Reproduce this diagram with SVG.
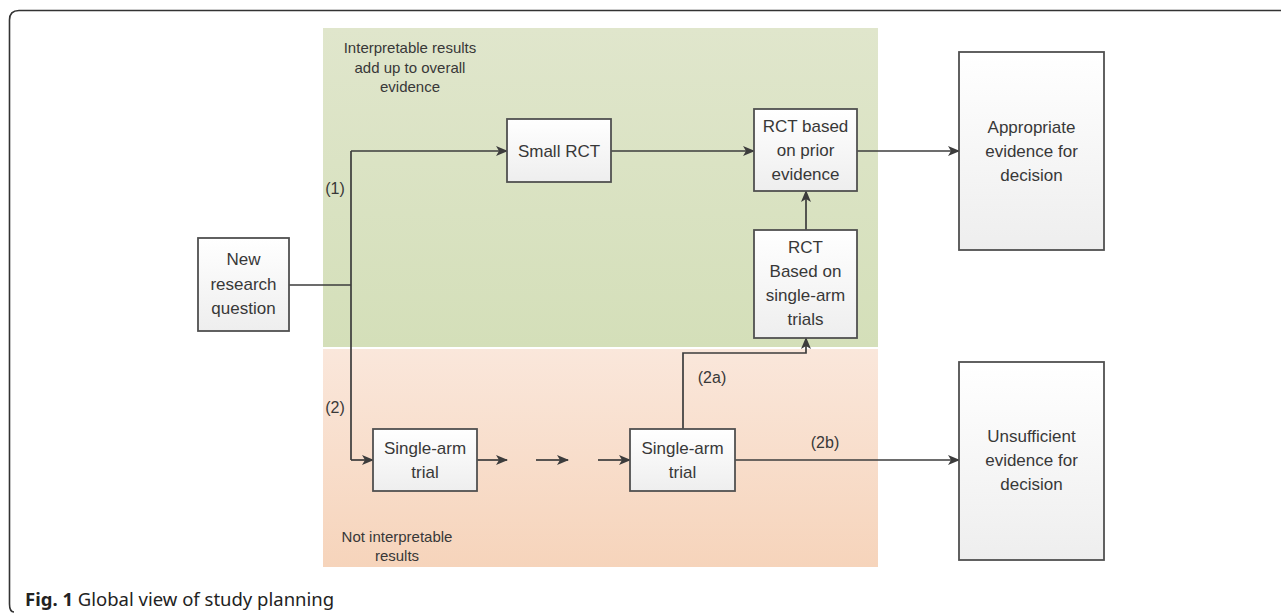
<svg xmlns="http://www.w3.org/2000/svg" width="1281" height="615" viewBox="0 0 1281 615">
<defs>
<linearGradient id="gGreen" x1="0" y1="0" x2="0" y2="1"><stop offset="0" stop-color="#e0e6cc"/><stop offset="1" stop-color="#d4dfb9"/></linearGradient>
<linearGradient id="gOrange" x1="0" y1="0" x2="0" y2="1"><stop offset="0" stop-color="#fae7db"/><stop offset="1" stop-color="#f6d4bb"/></linearGradient>
<linearGradient id="gBox" x1="0" y1="0" x2="0" y2="1"><stop offset="0" stop-color="#ffffff"/><stop offset="1" stop-color="#eeeeee"/></linearGradient>
<marker id="arr" markerWidth="12" markerHeight="10" refX="11" refY="5" orient="auto" markerUnits="userSpaceOnUse"><path d="M0,0 L12,5 L0,10 L3,5 Z" fill="#3c3c3c"/></marker>
</defs>
<style>
.box{fill:url(#gBox);stroke:#505050;stroke-width:1.8}
.t{font-family:"Liberation Sans",Arial,sans-serif;font-size:17px;fill:#383838;text-anchor:middle}
.s{font-family:"Liberation Sans",Arial,sans-serif;font-size:15px;fill:#383838;text-anchor:middle}
.l{font-family:"Liberation Sans",Arial,sans-serif;font-size:16px;fill:#383838;text-anchor:middle}
.c{fill:none;stroke:#3c3c3c;stroke-width:1.7}
.a{fill:none;stroke:#3c3c3c;stroke-width:1.7;marker-end:url(#arr)}
</style>
<rect width="1281" height="615" fill="#ffffff"/>
<path d="M1281,10.5 H19 Q9.5,10.5 9.5,20 V604 Q9.5,612 14,612" fill="none" stroke="#333333" stroke-width="1.6"/>
<g id="panels">
<rect x="323" y="28" width="555" height="319" fill="url(#gGreen)"/>
<rect x="323" y="349" width="555" height="218" fill="url(#gOrange)"/>
<text class="s" x="410" y="53">Interpretable results</text>
<text class="s" x="410" y="73">add up to overall</text>
<text class="s" x="410" y="92">evidence</text>
<text class="s" x="397" y="542">Not interpretable</text>
<text class="s" x="397" y="561">results</text>
</g>
<g id="connectors">
<path class="c" d="M289,285 H351 M351,151 V460"/>
<path class="a" d="M351,151 H507"/>
<path class="a" d="M611,151 H754"/>
<path class="a" d="M857,151 H959"/>
<path class="a" d="M806,230 V191"/>
<path class="a" d="M351,460 H373"/>
<path class="a" d="M477,460 H507"/>
<path class="a" d="M536,460 H568"/>
<path class="a" d="M598,460 H630"/>
<path class="a" d="M683,429 V353 H806 V338"/>
<path class="a" d="M735,460 H959"/>
<text class="l" x="335" y="194">(1)</text>
<text class="l" x="335" y="413">(2)</text>
<text class="l" x="712" y="383">(2a)</text>
<text class="l" x="825" y="448">(2b)</text>
</g>
<g id="new-research-question">
<rect class="box" x="198" y="238" width="91" height="93"/>
<text class="t" x="243.5" y="265">New</text>
<text class="t" x="243.5" y="290">research</text>
<text class="t" x="243.5" y="314">question</text>
</g>
<g id="small-rct">
<rect class="box" x="507" y="119" width="104" height="63"/>
<text class="t" x="559" y="157">Small RCT</text>
</g>
<g id="rct-prior">
<rect class="box" x="754" y="109" width="103" height="82"/>
<text class="t" x="805.5" y="132">RCT based</text>
<text class="t" x="805.5" y="156">on prior</text>
<text class="t" x="805.5" y="180">evidence</text>
</g>
<g id="rct-single-arm">
<rect class="box" x="754" y="230" width="103" height="108"/>
<text class="t" x="805.5" y="253">RCT</text>
<text class="t" x="805.5" y="277">Based on</text>
<text class="t" x="805.5" y="301">single-arm</text>
<text class="t" x="805.5" y="325">trials</text>
</g>
<g id="single-arm-1">
<rect class="box" x="373" y="429" width="104" height="62"/>
<text class="t" x="425" y="454">Single-arm</text>
<text class="t" x="425" y="478">trial</text>
</g>
<g id="single-arm-2">
<rect class="box" x="630" y="429" width="105" height="62"/>
<text class="t" x="682.5" y="454">Single-arm</text>
<text class="t" x="682.5" y="478">trial</text>
</g>
<g id="appropriate">
<rect class="box" x="959" y="52" width="145" height="198"/>
<text class="t" x="1031.5" y="133">Appropriate</text>
<text class="t" x="1031.5" y="157">evidence for</text>
<text class="t" x="1031.5" y="181">decision</text>
</g>
<g id="unsufficient">
<rect class="box" x="959" y="362" width="145" height="198"/>
<text class="t" x="1031.5" y="442">Unsufficient</text>
<text class="t" x="1031.5" y="466">evidence for</text>
<text class="t" x="1031.5" y="490">decision</text>
</g>
<g id="caption">
<text x="25" y="606" font-family="'Noto Sans','Open Sans',sans-serif" font-size="18.5" fill="#222222"><tspan font-weight="bold">Fig. 1</tspan> Global view of study planning</text>
</g>
</svg>
